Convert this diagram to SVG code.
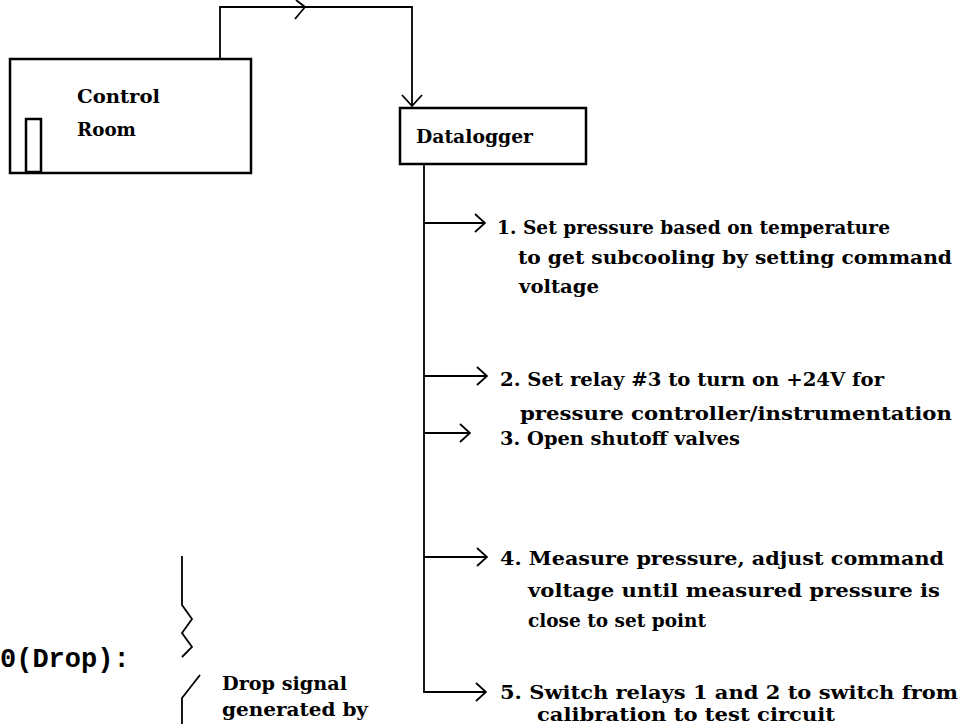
<svg xmlns="http://www.w3.org/2000/svg" width="965" height="724" viewBox="0 0 965 724">
<style>
.bx{fill:none;stroke:#000;stroke-width:2.5}
.ln{fill:none;stroke:#000;stroke-width:1.8;stroke-linejoin:miter}
.t{font-family:"DejaVu Serif","Liberation Serif",serif;font-weight:bold;font-size:18px;fill:#000}
.big{font-family:"Liberation Mono","DejaVu Sans Mono",monospace;font-weight:bold;font-size:27px;fill:#000}
</style>
<defs>
<marker id="chev" viewBox="0 0 12 20" refX="11" refY="10" markerWidth="12" markerHeight="20" markerUnits="userSpaceOnUse" orient="auto">
<path d="M1,1 L11,10 L1,19" fill="none" stroke="#000" stroke-width="1.8"/>
</marker>
</defs>
<rect width="965" height="724" fill="#fff"/>
<g id="control-room">
<rect class="bx" x="10" y="59" width="241" height="114"/>
<rect class="bx" x="26" y="119" width="15" height="53"/>
<text class="t" x="77" y="103" textLength="83" lengthAdjust="spacingAndGlyphs">Control</text>
<text class="t" x="77" y="136" textLength="59" lengthAdjust="spacingAndGlyphs">Room</text>
</g>
<g id="datalogger">
<rect class="bx" x="400" y="108" width="186" height="56"/>
<text class="t" x="416" y="143" textLength="117" lengthAdjust="spacingAndGlyphs">Datalogger</text>
</g>
<g id="connectors">
<path class="ln" d="M220,59 V7 H412 V106"/>
<path class="ln" d="M296,0 L305,7 L295,19"/>
<path class="ln" d="M402,95 L412,106 L422,95"/>
<path class="ln" d="M424,164 V692 H486" marker-end="url(#chev)"/>
<path class="ln" d="M424,223 H485" marker-end="url(#chev)"/>
<path class="ln" d="M424,376 H487" marker-end="url(#chev)"/>
<path class="ln" d="M424,433 H470" marker-end="url(#chev)"/>
<path class="ln" d="M424,557 H487" marker-end="url(#chev)"/>
<path class="ln" d="M182,556 V605 L192,619 L182,633 L192,647 L182,657"/>
<path class="ln" d="M200,675 L182,698 V724"/>
</g>
<g id="step1">
<text class="t" x="497" y="234" textLength="393" lengthAdjust="spacingAndGlyphs">1. Set pressure based on temperature</text>
<text class="t" x="518" y="264" textLength="434" lengthAdjust="spacingAndGlyphs">to get subcooling by setting command</text>
<text class="t" x="519" y="293" textLength="80" lengthAdjust="spacingAndGlyphs">voltage</text>
</g>
<g id="step2">
<text class="t" x="500" y="386" textLength="384" lengthAdjust="spacingAndGlyphs">2. Set relay #3 to turn on +24V for</text>
<text class="t" x="520" y="420" textLength="432" lengthAdjust="spacingAndGlyphs">pressure controller/instrumentation</text>
</g>
<g id="step3">
<text class="t" x="500" y="445" textLength="240" lengthAdjust="spacingAndGlyphs">3. Open shutoff valves</text>
</g>
<g id="step4">
<text class="t" x="500" y="565" textLength="444" lengthAdjust="spacingAndGlyphs">4. Measure pressure, adjust command</text>
<text class="t" x="528" y="597" textLength="412" lengthAdjust="spacingAndGlyphs">voltage until measured pressure is</text>
<text class="t" x="528" y="627" textLength="178" lengthAdjust="spacingAndGlyphs">close to set point</text>
</g>
<g id="step5">
<text class="t" x="500" y="699" textLength="458" lengthAdjust="spacingAndGlyphs">5. Switch relays 1 and 2 to switch from</text>
<text class="t" x="537" y="721" textLength="298" lengthAdjust="spacingAndGlyphs">calibration to test circuit</text>
</g>
<g id="drop">
<text class="big" x="0" y="667">0(Drop):</text>
<text class="t" x="222" y="690" textLength="125" lengthAdjust="spacingAndGlyphs">Drop signal</text>
<text class="t" x="222" y="716" textLength="146" lengthAdjust="spacingAndGlyphs">generated by</text>
</g>
</svg>
